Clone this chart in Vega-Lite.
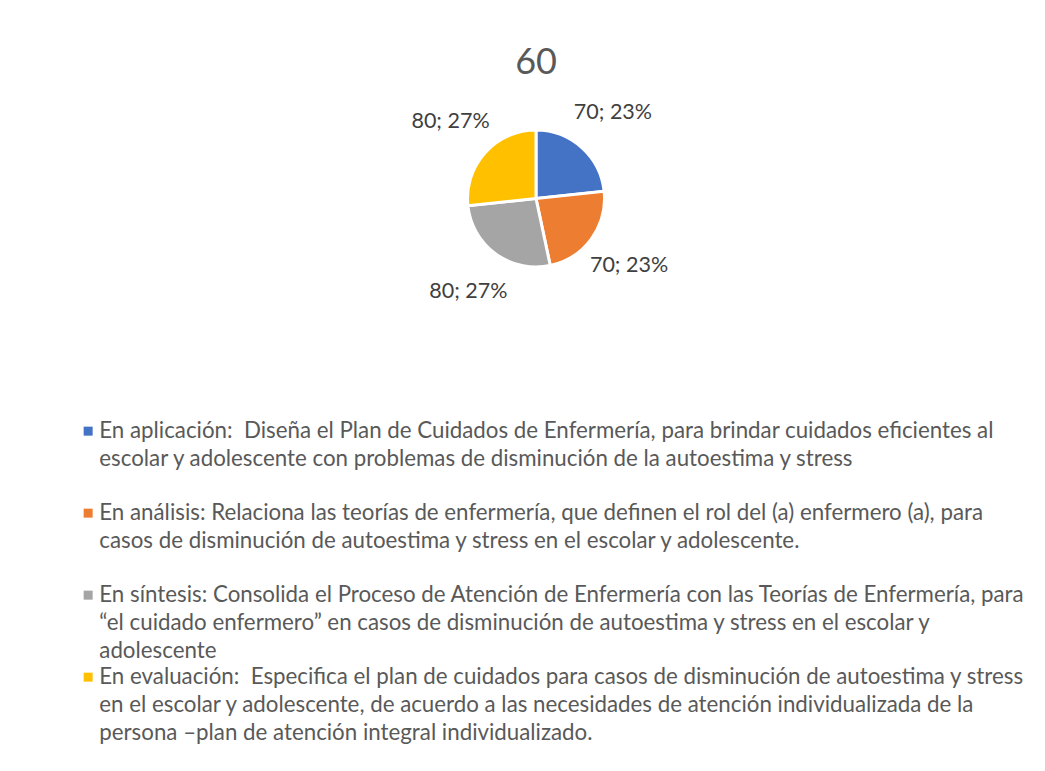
{
  "$schema": "https://vega.github.io/schema/vega-lite/v6.json",
  "width": 1018,
  "height": 217,
  "autosize": {"type": "none"},
  "padding": {"left": 27, "top": 90, "right": 0, "bottom": 464},
  "background": "white",
  "title": {"text": "60", "fontSize": 36, "font": "Lato", "fontWeight": "normal", "color": "#595959", "anchor": "middle", "offset": 8},
  "data": {
    "values": [
      {"idx": 1, "category": "En aplicación:\u00a0 Diseña el Plan de Cuidados de Enfermería, para brindar cuidados eficientes al\nescolar y adolescente con problemas de disminución de la autoestima y stress", "value": 70},
      {"idx": 2, "category": "En análisis: Relaciona las teorías de enfermería, que definen el rol del (a) enfermero (a), para\ncasos de disminución de autoestima y stress en el escolar y adolescente.", "value": 70},
      {"idx": 3, "category": "En síntesis: Consolida el Proceso de Atención de Enfermería con las Teorías de Enfermería, para\n“el cuidado enfermero” en casos de disminución de autoestima y stress en el escolar y\nadolescente", "value": 80},
      {"idx": 4, "category": "En evaluación:\u00a0 Especifica el plan de cuidados para casos de disminución de autoestima y stress\nen el escolar y adolescente, de acuerdo a las necesidades de atención individualizada de la\npersona –plan de atención integral individualizado.", "value": 80}
    ]
  },
  "transform": [
    {"joinaggregate": [{"op": "sum", "field": "value", "as": "total"}]},
    {"calculate": "datum.value + '; ' + format(datum.value / datum.total, '.0%')", "as": "label"}
  ],
  "encoding": {
    "theta": {"field": "value", "type": "quantitative", "stack": true},
    "order": {"field": "idx", "type": "quantitative"}
  },
  "layer": [
    {
      "mark": {"type": "arc", "outerRadius": 68.5, "stroke": "white", "strokeWidth": 3},
      "encoding": {
        "color": {
          "field": "category",
          "type": "nominal",
          "sort": null,
          "scale": {
            "domain": [
              "En aplicación:\u00a0 Diseña el Plan de Cuidados de Enfermería, para brindar cuidados eficientes al\nescolar y adolescente con problemas de disminución de la autoestima y stress",
              "En análisis: Relaciona las teorías de enfermería, que definen el rol del (a) enfermero (a), para\ncasos de disminución de autoestima y stress en el escolar y adolescente.",
              "En síntesis: Consolida el Proceso de Atención de Enfermería con las Teorías de Enfermería, para\n“el cuidado enfermero” en casos de disminución de autoestima y stress en el escolar y\nadolescente",
              "En evaluación:\u00a0 Especifica el plan de cuidados para casos de disminución de autoestima y stress\nen el escolar y adolescente, de acuerdo a las necesidades de atención individualizada de la\npersona –plan de atención integral individualizado."
            ],
            "range": ["#4472C4", "#ED7D31", "#A5A5A5", "#FFC000"]
          },
          "legend": {
            "orient": "none",
            "legendX": 50,
            "legendY": 330,
            "direction": "vertical",
            "title": null,
            "padding": 0,
            "symbolType": "square",
            "symbolSize": 81,
            "symbolStrokeWidth": 0,
            "labelFont": "Lato",
            "labelFontSize": 22.3,
            "labelColor": "#595959",
            "labelLimit": 1000,
            "labelOffset": 0,
            "labelBaseline": "top",
            "labelExpr": "split(datum.label, '\\n')",
            "gridAlign": "all",
            "rowPadding": 3
          }
        }
      }
    },
    {
      "mark": {"type": "text", "radius": 115, "font": "Lato", "fontSize": 21.5, "fill": "#404040"},
      "encoding": {"text": {"field": "label", "type": "nominal"}}
    }
  ],
  "config": {
    "view": {"stroke": null},
    "style": {"guide-label": {"lineHeight": 28, "dy": -11}}
  }
}
